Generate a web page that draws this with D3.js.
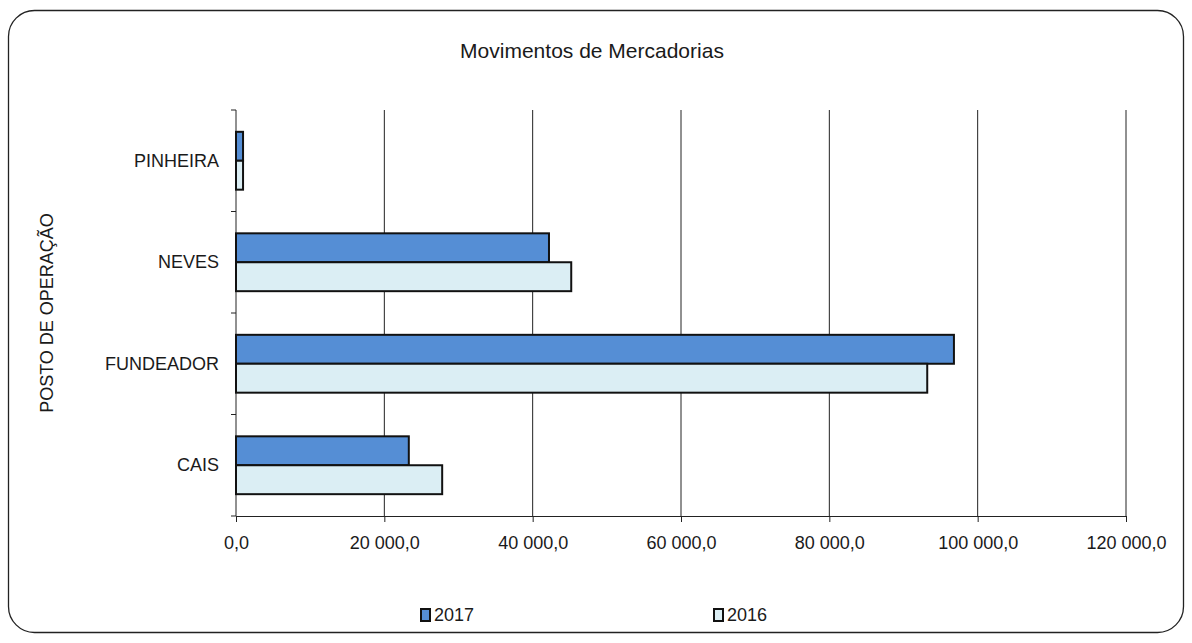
<!DOCTYPE html>
<html><head><meta charset="utf-8">
<script src="https://cdn.jsdelivr.net/npm/d3@7"></script>
<style>body{margin:0;background:#fff}svg{display:block}text{font-family:"Liberation Sans",Arial,sans-serif;fill:#1a1a1a}</style>
</head><body><svg id="c" width="1192" height="643"></svg>
<script>
const categories = ["PINHEIRA","NEVES","FUNDEADOR","CAIS"];
const series = ["2017","2016"];
const values2017 = [950, 42200, 96800, 23300];
const values2016 = [950, 45200, 93200, 27800];
const xTicks = [0,20000,40000,60000,80000,100000,120000];
const colors = {"2017":"#558ED5","2016":"#DBEEF4"};

const svg = d3.select("#c");
svg.append("rect").attr("x",8.5).attr("y",10.5).attr("width",1175).attr("height",622)
  .attr("rx",26).attr("fill","#fff").attr("stroke","#222").attr("stroke-width",1.3);

const m = {l:236,r:1126,t:110,b:516};
const x = d3.scaleLinear().domain([0,120000]).range([m.l,m.r]);
const y = d3.scaleBand().domain(categories).range([m.t,m.b]).paddingInner(0.43).paddingOuter(0.215);
const ys = d3.scaleBand().domain(series).range([0,y.bandwidth()]);

svg.append("text").attr("x",592).attr("y",58).attr("text-anchor","middle").attr("font-size",21).text("Movimentos de Mercadorias");

// grid
svg.append("g").selectAll("line").data(xTicks.slice(1)).join("line")
  .attr("x1",d=>x(d)).attr("x2",d=>x(d)).attr("y1",m.t).attr("y2",m.b)
  .attr("stroke","#222").attr("stroke-width",1);

const fmt = d => d3.format(",.1f")(d).replace(/,/g," ").replace(".",",");
const xAxis = svg.append("g").attr("transform",`translate(0,${m.b})`)
  .call(d3.axisBottom(x).tickValues(xTicks).tickFormat(fmt).tickSizeOuter(0).tickSize(6).tickPadding(14));
xAxis.select(".domain").attr("stroke","#222");
xAxis.selectAll(".tick line").attr("stroke","#222");
xAxis.selectAll("text").attr("font-size",18).style("font-family","'Liberation Sans',Arial,sans-serif").attr("fill","#1a1a1a");

// y axis with ticks at band boundaries
const yStep = (m.b-m.t)/categories.length;
const yg = svg.append("g");
yg.append("line").attr("x1",m.l).attr("x2",m.l).attr("y1",m.t).attr("y2",m.b).attr("stroke","#222");
yg.selectAll("line.t").data(d3.range(categories.length+1)).join("line").attr("class","t")
  .attr("x1",m.l-5).attr("x2",m.l).attr("y1",i=>m.t+i*yStep).attr("y2",i=>m.t+i*yStep).attr("stroke","#222");
yg.selectAll("text").data(categories).join("text")
  .attr("x",m.l-17).attr("y",d=>y(d)+y.bandwidth()/2).attr("dy","0.33em")
  .attr("text-anchor","end").attr("font-size",18).text(d=>d);

svg.append("text").attr("transform","translate(53,313) rotate(-90)").attr("text-anchor","middle")
  .attr("font-size",18).text("POSTO DE OPERAÇÃO");

// bars
const data = [];
categories.forEach((c,i)=>{ data.push({c,s:"2017",v:values2017[i]}); data.push({c,s:"2016",v:values2016[i]}); });
svg.append("g").selectAll("rect").data(data).join("rect")
  .attr("x",x(0)).attr("y",d=>y(d.c)+ys(d.s)).attr("width",d=>x(d.v)-x(0)).attr("height",ys.bandwidth())
  .attr("fill",d=>colors[d.s]).attr("stroke","#111").attr("stroke-width",2);

// legend
const lg = svg.append("g");
const lx = {"2017":421,"2016":714};
series.forEach(s=>{
  lg.append("rect").attr("x",lx[s]).attr("y",609).attr("width",9).attr("height",12)
    .attr("fill",colors[s]).attr("stroke","#111").attr("stroke-width",2);
  lg.append("text").attr("x",lx[s]+13).attr("y",615).attr("dy","0.35em").attr("font-size",18).text(s);
});
</script></body></html>
